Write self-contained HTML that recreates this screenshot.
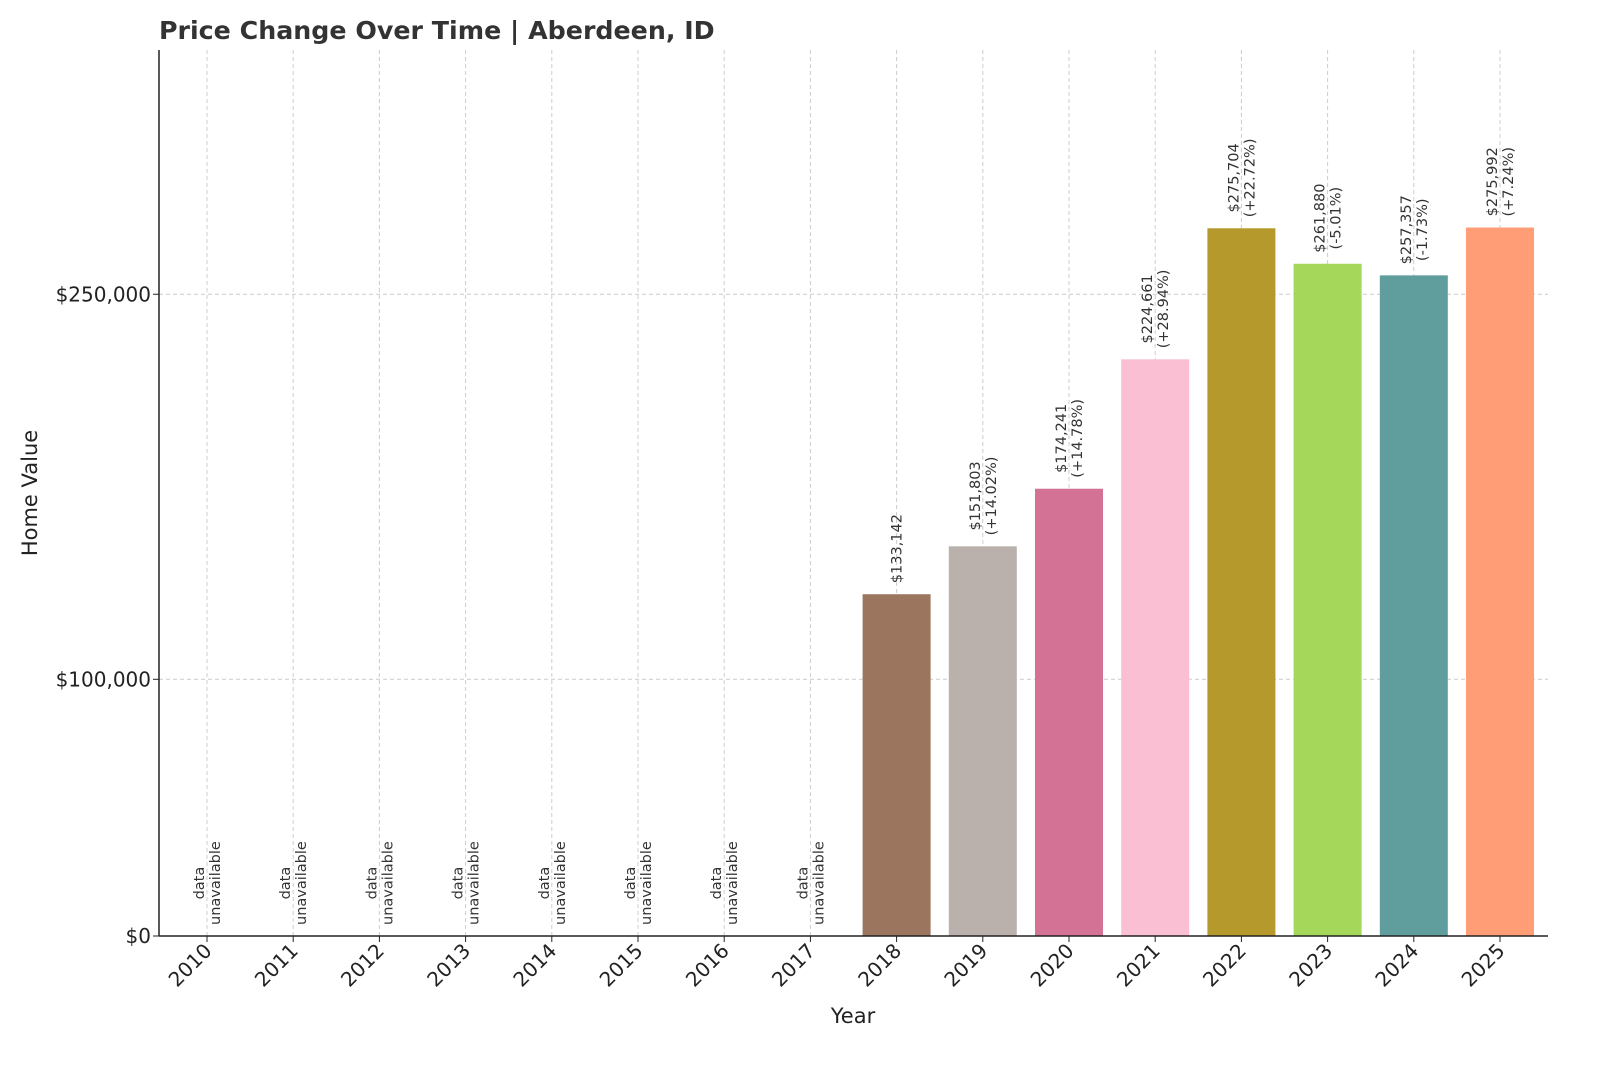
<!DOCTYPE html>
<html><head><meta charset="utf-8"><style>
body{margin:0;background:#fff}
svg{display:block;font-family:"DejaVu Sans","Liberation Sans",sans-serif}
</style></head><body>
<svg id="chart" width="1600" height="1067">
<text x="159" y="39" font-size="25.3" font-weight="bold" fill="#333">Price Change Over Time | Aberdeen, ID</text>
<g id="grid"></g><g id="bars"></g><g id="labels"></g><g id="axes"></g>
<text x="853" y="1023" font-size="21" text-anchor="middle" fill="#222">Year</text>
<text transform="translate(37,493) rotate(-90)" font-size="21" text-anchor="middle" fill="#222">Home Value</text>
</svg>
<script>
const years=[2010,2011,2012,2013,2014,2015,2016,2017,2018,2019,2020,2021,2022,2023,2024,2025];
const values=[null,null,null,null,null,null,null,null,133142,151803,174241,224661,275704,261880,257357,275992];
const changes=[null,null,null,null,null,null,null,null,null,"+14.02%","+14.78%","+28.94%","+22.72%","-5.01%","-1.73%","+7.24%"];
const yTicks=[0,100000,250000];
const yTickLabels=["$0","$100,000","$250,000"];
const colors=["#4e79a7","#f28e2b","#e15759","#76b7b2","#59a14f","#edc948","#b07aa1","#ff9da7","#9c755f","#bab0ac","#d37295","#fabfd2","#b6992d","#a5d75a","#5f9e9d","#ff9d76"];
const NS="http://www.w3.org/2000/svg";
const y0=936, yPer=2.567/1000;
const yS=v=>y0-v*yPer;
const xS=i=>207+i*86.2;
const bw=68;
function mk(t,a,p){const e=document.createElementNS(NS,t);for(const k in a)e.setAttribute(k,a[k]);p.appendChild(e);return e;}
const grid=document.getElementById('grid'),bars=document.getElementById('bars'),labels=document.getElementById('labels'),axes=document.getElementById('axes');
years.forEach((yr,i)=>{
  const g=mk('line',{x1:xS(i),x2:xS(i),y1:50,y2:y0,stroke:'#ccc','stroke-dasharray':'4,3','stroke-width':1},grid);
  
  
});
yTicks.forEach((v,i)=>{
  if(v>0){const g=mk('line',{x1:159,x2:1548,y1:yS(v),y2:yS(v),stroke:'#ccc','stroke-dasharray':'4,3','stroke-width':1},grid);
  
  }
  mk('line',{x1:153,x2:159,y1:yS(v),y2:yS(v),stroke:'#222'},axes);
  const t=mk('text',{x:151,y:yS(v)+7,'font-size':20,'text-anchor':'end',fill:'#222'},axes);
  t.textContent=yTickLabels[i];
  
  
});
years.forEach((yr,i)=>{
  const x=xS(i);
  mk('line',{x1:x,x2:x,y1:y0,y2:y0+6,stroke:'#222'},axes);
  const t=mk('text',{transform:`translate(${x+6},${y0+16}) rotate(-45)`,'font-size':20,'text-anchor':'end',fill:'#222'},axes);
  t.textContent=yr;
  
  
  let lines;let bottom;
  if(values[i]==null){lines=["data","unavailable"];bottom=925;}
  else{
    const r=mk('rect',{x:x-bw/2,y:yS(values[i]),width:bw,height:y0-yS(values[i]),fill:colors[i]},bars);
    
    
    lines=['$'+values[i].toLocaleString('en-US')];
    if(changes[i])lines.push('('+changes[i]+')');
    bottom=yS(values[i])-11;
  }
  const texts=lines.map((s,j)=>{
    const off=lines.length==2?(j==0?-3:13):5;
    const tt=mk('text',{'font-size':14.5,fill:'#333','text-anchor':'middle'},labels);
    tt.textContent=s;
    
    
    tt._off=off;return tt;});
  const maxL=Math.max(...texts.map(t=>t.getComputedTextLength()));
  const cy=bottom-maxL/2;
  texts.forEach(tt=>tt.setAttribute('transform',`translate(${x+tt._off},${cy}) rotate(-90)`));
});
mk('line',{x1:159,x2:159,y1:50,y2:y0,stroke:'#222','stroke-width':1.5},axes);
mk('line',{x1:159,x2:1548,y1:y0,y2:y0,stroke:'#222','stroke-width':1.5},axes);
</script>
</body></html>
